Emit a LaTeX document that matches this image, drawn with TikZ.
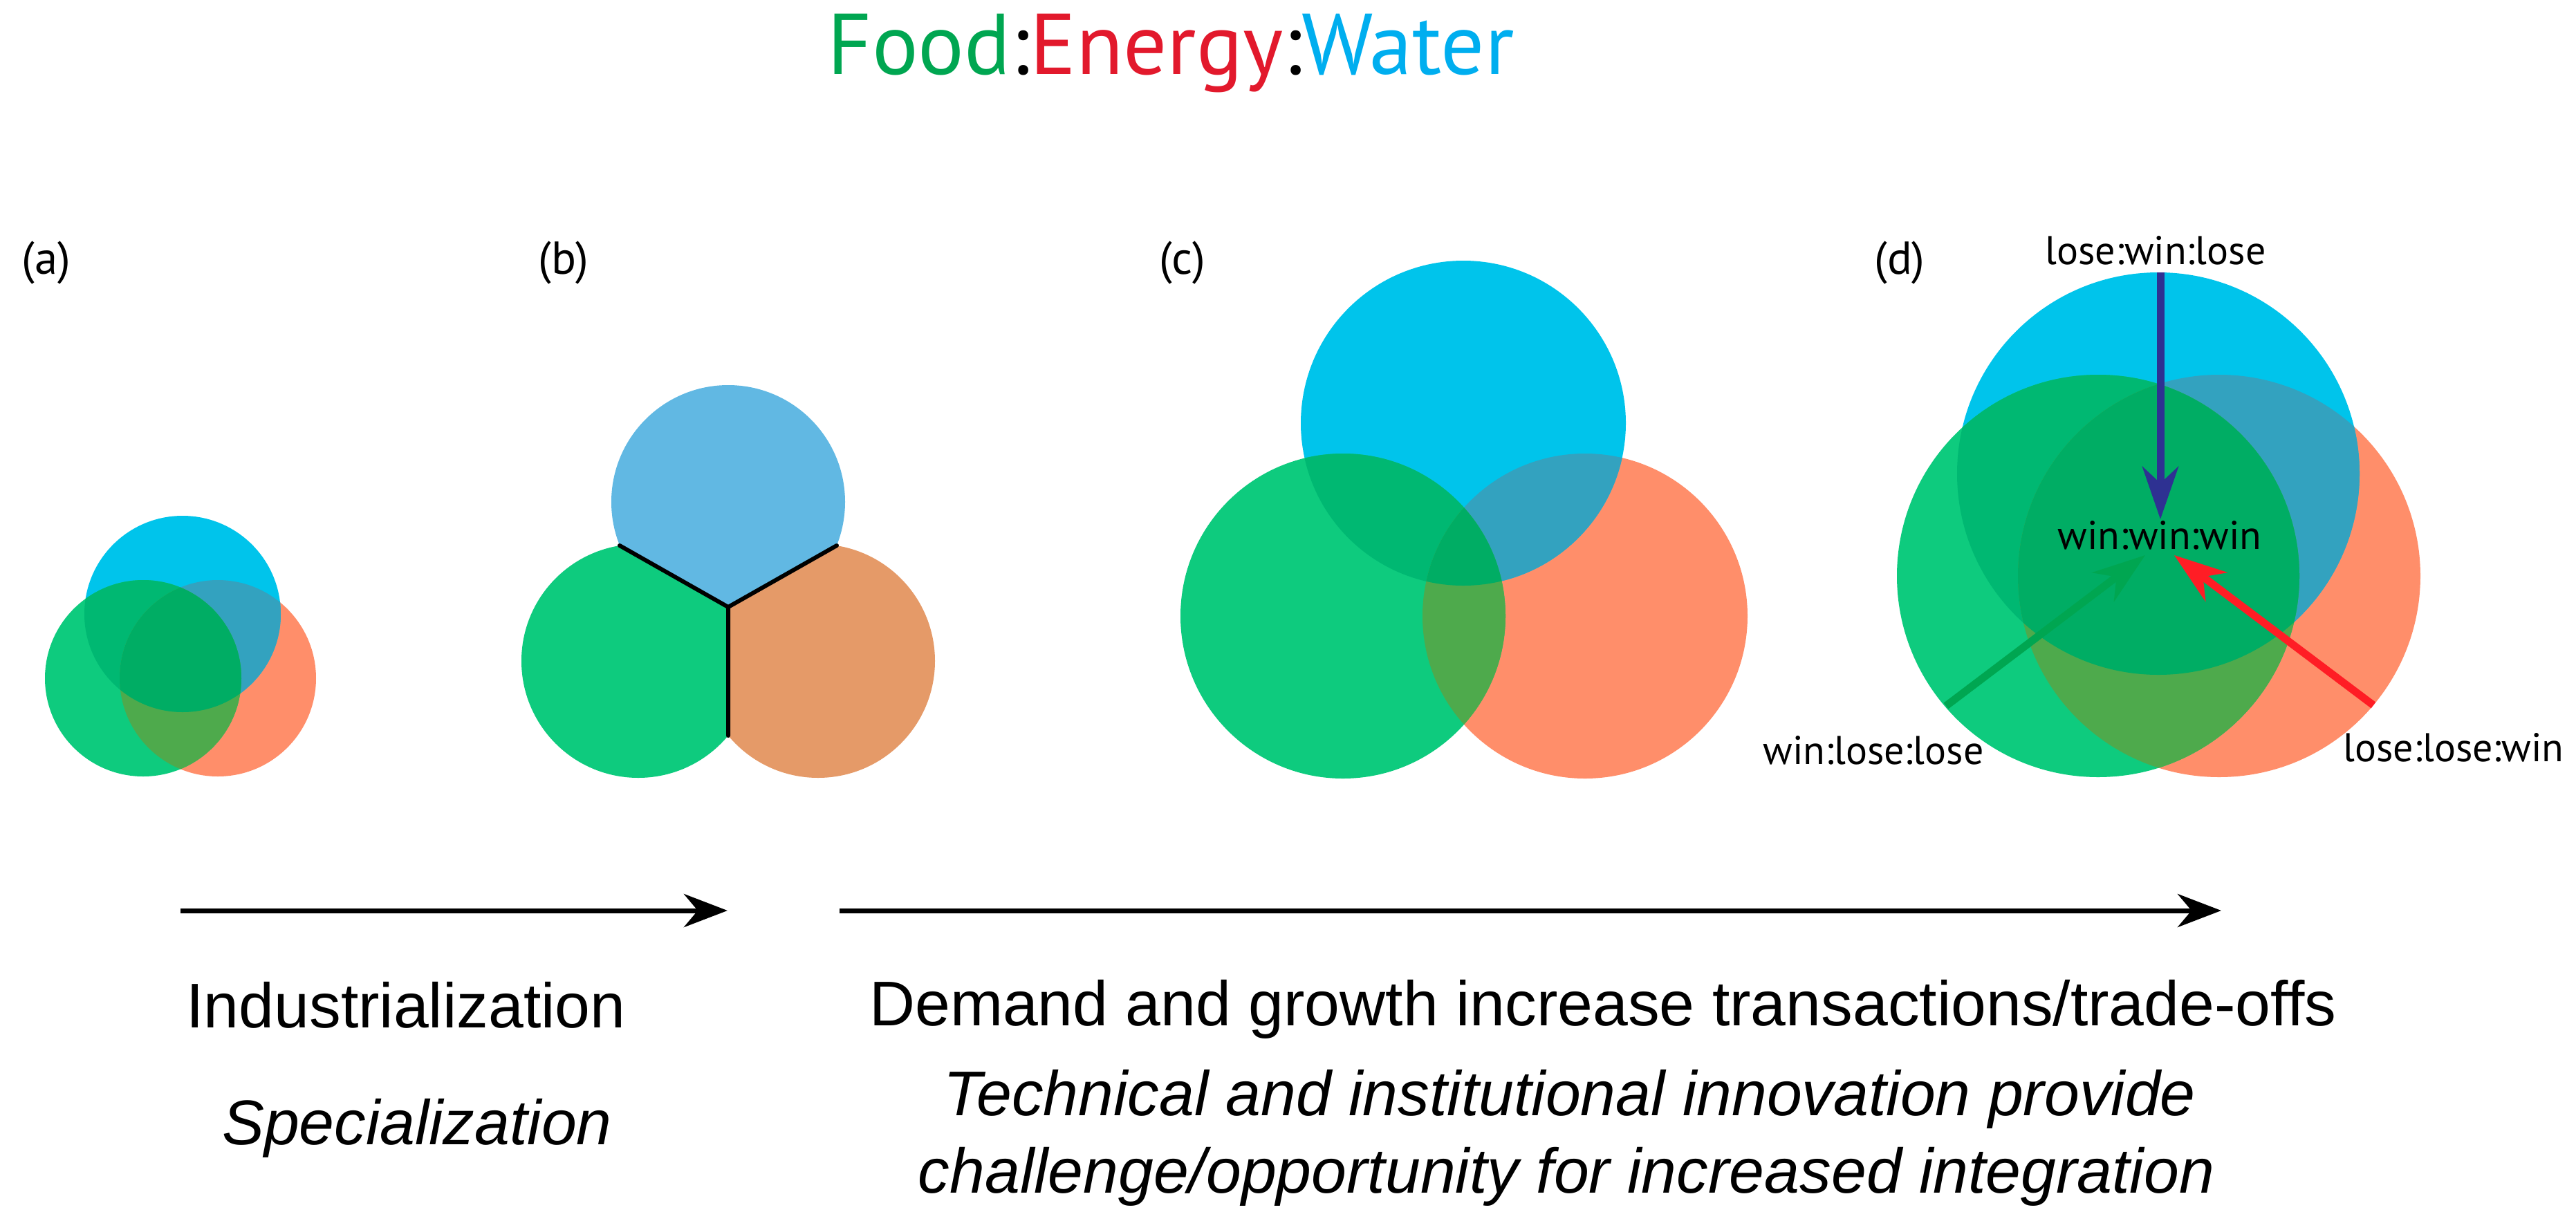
\documentclass[tikz,border=0pt]{standalone}
\usepackage{fontspec}
\setmainfont{PT Sans}
\newfontfamily\captionfont{Liberation Sans}
\usetikzlibrary{arrows.meta, positioning, calc}
\definecolor{waterblue}{HTML}{00C4EB}
\definecolor{foodgreen}{HTML}{0ECB7E}
\definecolor{energyorange}{HTML}{FF8E6A}
\definecolor{greenblue}{HTML}{00B872}
\definecolor{blueorange}{HTML}{33A2BF}
\definecolor{greenorange}{HTML}{4EAA4C}
\definecolor{allthree}{HTML}{00AD64}
\definecolor{paleblue}{HTML}{61B8E3}
\definecolor{paleorange}{HTML}{E59A68}
\definecolor{titlegreen}{HTML}{00A651}
\definecolor{titlered}{HTML}{E2192C}
\definecolor{titleblue}{HTML}{00AEEF}
\definecolor{pullblue}{HTML}{2E3192}
\definecolor{pullgreen}{HTML}{00A651}
\definecolor{pullred}{HTML}{FF1D25}
% three overlapping circles: water, food, energy centres, radius
\newcommand{\nexusvenn}[4]{%
  \fill[energyorange] (#3) circle (#4);
  \fill[waterblue] (#1) circle (#4);
  \fill[foodgreen] (#2) circle (#4);
  \begin{scope}\clip (#1) circle (#4); \fill[blueorange] (#3) circle (#4);\end{scope}
  \begin{scope}\clip (#2) circle (#4); \fill[greenblue] (#1) circle (#4);\end{scope}
  \begin{scope}\clip (#2) circle (#4); \fill[greenorange] (#3) circle (#4);\end{scope}
  \begin{scope}\clip (#2) circle (#4); \clip (#1) circle (#4); \fill[allthree] (#3) circle (#4);\end{scope}%
}
\begin{document}
\begin{tikzpicture}[
  panel/.style={anchor=base, inner sep=0pt, font=\fontsize{19}{22}\selectfont},
  tag/.style={anchor=base, inner sep=0pt, font=\fontsize{16.5}{19}\selectfont},
  caption/.style={anchor=base, inner sep=0pt, font=\captionfont\fontsize{26}{30}\selectfont},
  trend/.style={-{Stealth[length=0.63cm, width=0.48cm, inset=0.2cm]}, line width=0.07cm},
  pull/.style={-{Stealth[length=0.76cm, width=0.52cm, inset=0.24cm]}, line width=0.11cm},
  cellline/.style={line width=0.06cm, line cap=round}
]
  \useasboundingbox (0,0) rectangle (37.25,-17.66);

  % Titre
  \node[anchor=base, inner sep=0pt, font=\fontsize{35.5}{40}\selectfont] (title) at (16.93,-1.07)
    {\textcolor{titlegreen}{Food}:\textcolor{titlered}{Energy}:\textcolor{titleblue}{Water}};

  % (a)
  \node[panel] (pa) at (0.67,-3.96) {(a)};
  \nexusvenn{2.64,-8.88}{2.07,-9.81}{3.15,-9.81}{1.42}

  % (b)
  \node[panel] (pb) at (8.15,-3.96) {(b)};
  \coordinate (bJ) at (10.53,-8.78);
  \coordinate (bL) at (8.96,-7.89);
  \coordinate (bR) at (12.10,-7.89);
  \coordinate (bD) at (10.53,-10.64);
  \begin{scope}
    \clip (bJ) -- ($(bJ)!3!(bL)$) -- (5.8,-14) -- (10.53,-14) -- cycle;
    \fill[foodgreen] (9.23,-9.56) circle (1.69);
  \end{scope}
  \begin{scope}
    \clip (bJ) -- ($(bJ)!3!(bR)$) -- (15.3,-14) -- (10.53,-14) -- cycle;
    \fill[paleorange] (11.83,-9.56) circle (1.69);
  \end{scope}
  \begin{scope}
    \clip (bJ) -- ($(bJ)!3!(bL)$) -- (5.8,-3) -- (15.3,-3) -- ($(bJ)!3!(bR)$) -- cycle;
    \fill[paleblue] (10.53,-7.26) circle (1.69);
  \end{scope}
  \draw[cellline] (bL) -- (bJ) -- (bR) (bJ) -- (bD);

  % (c)
  \node[panel] (pc) at (17.10,-3.96) {(c)};
  \nexusvenn{21.16,-6.12}{19.42,-8.91}{22.92,-8.91}{2.35}

  % (d)
  \node[panel] (pd) at (27.47,-3.96) {(d)};
  \nexusvenn{31.21,-6.85}{30.34,-8.33}{32.09,-8.33}{2.91}
  \node[tag] (lwl) at (31.17,-3.82) {lose:win:lose};
  \node[tag] (www) at (31.23,-7.94) {win:win:win};
  \node[tag] (wll) at (27.09,-11.05) {win:lose:lose};
  \node[tag] (llw) at (35.48,-11.01) {lose:lose:win};
  \coordinate (lwlEnd) at (31.24,-3.94);
  \coordinate (wllEnd) at (28.14,-10.21);
  \coordinate (llwEnd) at (34.32,-10.20);
  \coordinate (wwwTop) at (31.24,-7.51);
  \coordinate (wwwLeft) at (31.02,-8.03);
  \coordinate (wwwRight) at (31.44,-8.03);
  \draw[pull, pullblue] (lwlEnd) -- (wwwTop);
  \draw[pull, pullgreen] (wllEnd) -- (wwwLeft);
  \draw[pull, pullred] (llwEnd) -- (wwwRight);

  % Flèches de tendance
  \coordinate (t1s) at (2.61,-13.17);
  \coordinate (t1e) at (10.52,-13.17);
  \coordinate (t2s) at (12.14,-13.17);
  \coordinate (t2e) at (32.12,-13.17);
  \draw[trend] (t1s) -- (t1e);
  \draw[trend] (t2s) -- (t2e);

  % Légendes
  \node[caption] (indus) at (5.87,-14.86) {Industrialization};
  \node[caption] (spec) at (6.03,-16.55) {\itshape Specialization};
  \node[caption] (demand) at (23.18,-14.83) {Demand and growth increase transactions/trade-offs};
  \node[caption] (tech) at (22.70,-16.13) {\itshape Technical and institutional innovation provide};
  \node[caption] (chall) at (22.65,-17.25) {\itshape challenge/opportunity for increased integration};
\end{tikzpicture}
\end{document}
